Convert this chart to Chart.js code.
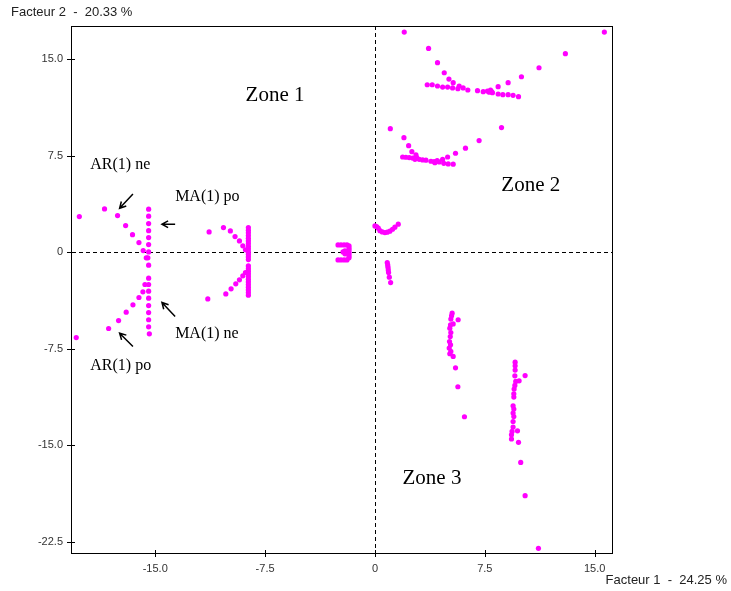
<!DOCTYPE html>
<html>
<head>
<meta charset="utf-8">
<script src="https://cdn.jsdelivr.net/npm/chart.js@4/dist/chart.umd.min.js"></script>
<style>
  html, body { margin: 0; padding: 0; background: #fff; }
  #wrap { width: 731px; height: 591px; }
</style>
</head>
<body>
<div id="wrap"><canvas id="plan"></canvas></div>
<script>
// axis ticks
const xTicks = [-15, -7.5, 0, 7.5, 15];
const yTicks = [15, 7.5, 0, -7.5, -15, -22.5];
const xTitle = "Facteur 1  -  24.25 %";
const yTitle = "Facteur 2  -  20.33 %";

// AR(1) diagonal branches (left)
const arX = [-20.18, -18.46, -17.57, -17.02, -16.55, -16.11, -15.82, -15.61, -15.84, -16.11, -16.52, -16.98, -17.50, -18.18, -20.39];
const arY = [2.77, 3.37, 2.85, 2.07, 1.37, 0.75, 0.13, -0.43, -3.07, -3.51, -4.08, -4.65, -5.30, -5.92, -6.62];

// MA(1) vertical column
const maX = [-15.45, -15.45, -15.45, -15.45, -15.45, -15.45, -15.45, -15.50, -15.45, -15.45, -15.70, -15.45, -15.45, -15.45, -15.45, -15.45, -15.45, -15.45, -15.40];
const maY = [3.35, 2.80, 2.23, 1.68, 1.14, 0.60, 0.03, -0.43, -1.00, -2.01, -2.50, -2.50, -3.02, -3.56, -4.14, -4.68, -5.24, -5.79, -6.33];

// second arc (around -8.6)
const arcX = [-11.32, -10.34, -9.87, -9.55, -9.25, -9.02, -8.84, -8.84, -9.02, -9.25, -9.50, -9.82, -10.18, -11.41];
const arcY = [1.58, 1.92, 1.66, 1.22, 0.88, 0.50, 0.19, -1.57, -1.83, -2.14, -2.45, -2.84, -3.23, -3.62];
const colX = [-8.64, -8.64, -8.64, -8.64, -8.64, -8.64, -8.64, -8.64, -8.64, -8.64, -8.64, -8.64, -8.64, -8.64, -8.64, -8.64, -8.64, -8.64, -8.64, -8.64, -8.64, -8.64, -8.64, -8.64, -8.64];
const colY = [1.92, 1.71, 1.51, 1.30, 1.09, 0.88, 0.68, 0.47, 0.26, 0.05, -0.15, -0.36, -0.57, -1.06, -1.27, -1.47, -1.68, -1.89, -2.09, -2.30, -2.51, -2.71, -2.92, -3.13, -3.33];

// bracket near origin (left)
const brX = [-2.52, -2.32, -2.11, -1.91, -1.77, -1.77, -1.77, -1.77, -1.77, -1.77, -1.77, -1.91, -2.11, -2.32, -2.52, -2.18, -2.05, -2.05];
const brY = [0.57, 0.57, 0.57, 0.57, 0.50, 0.34, 0.19, 0.03, -0.12, -0.28, -0.43, -0.59, -0.59, -0.59, -0.59, 0.03, 0.11, -0.12];

// small curve and stub right of origin
const cuX = [0.0, 0.11, 0.23, 0.34, 0.50, 0.68, 0.84, 1.02, 1.20, 1.36, 1.59];
const cuY = [2.05, 2.00, 1.87, 1.68, 1.58, 1.53, 1.56, 1.64, 1.79, 1.95, 2.18];
const stX = [0.84, 0.87, 0.89, 0.91, 0.93, 0.98, 1.07];
const stY = [-0.80, -0.98, -1.16, -1.37, -1.57, -1.93, -2.35];

// zone 2, upper band
const z2aX = [2.00, 15.66, 3.66, 4.27, 4.73, 5.05, 5.34, 13.00, 11.20, 10.00, 9.09, 8.41,
  3.57, 3.91, 4.27, 4.62, 4.96, 5.30, 5.66, 5.75, 6.02, 6.34, 7.00, 7.39, 7.68, 7.89, 8.02, 8.41, 8.73, 9.09, 9.43, 9.80, 7.80, 7.95];
const z2aY = [17.10, 17.10, 15.83, 14.72, 13.94, 13.45, 13.17, 15.42, 14.33, 13.63, 13.17, 12.86,
  13.01, 13.01, 12.91, 12.83, 12.83, 12.76, 12.70, 12.91, 12.76, 12.60, 12.55, 12.47, 12.52, 12.60, 12.39, 12.29, 12.24, 12.24, 12.19, 12.08, 12.43, 12.50];

// zone 2, lower band
const z2bX = [1.05, 8.64, 1.98, 2.30, 2.52, 2.80, 7.11, 6.18, 5.50, 4.96,
  1.89, 2.11, 2.34, 2.57, 2.84, 3.02, 3.25, 3.48, 3.82, 4.04, 4.25, 4.39, 4.62, 4.70, 5.00, 5.34, 2.73, 4.09];
const z2bY = [9.60, 9.68, 8.90, 8.28, 7.81, 7.56, 8.67, 8.08, 7.69, 7.40,
  7.40, 7.38, 7.35, 7.32, 7.38, 7.22, 7.17, 7.15, 7.07, 7.04, 7.11, 7.01, 7.22, 6.91, 6.86, 6.84, 7.22, 6.96];

// zone 3, left column
const z3aX = [5.27, 5.23, 5.68, 5.18, 5.34, 5.16, 5.11, 5.18, 5.14, 5.09, 5.16, 5.07, 5.18, 5.11, 5.34, 5.50, 5.66, 6.11];
const z3aY = [-4.73, -4.93, -5.24, -5.19, -5.56, -5.63, -5.89, -6.23, -6.54, -6.93, -7.18, -7.44, -7.70, -7.88, -8.09, -8.97, -10.44, -12.77];

// zone 3, right column
const z3bX = [9.57, 9.57, 9.57, 10.25, 9.55, 9.84, 9.61, 9.55, 9.50, 9.48, 9.48, 9.43, 9.48, 9.43, 9.48, 9.43, 9.43, 9.73, 9.36, 9.32, 9.32, 9.80, 9.95, 10.25, 11.16];
const z3bY = [-8.53, -8.81, -9.15, -9.57, -9.59, -9.98, -10.03, -10.34, -10.62, -10.99, -11.24, -11.92, -12.17, -12.48, -12.75, -13.14, -13.57, -13.86, -13.91, -14.17, -14.50, -14.76, -16.32, -18.90, -22.99];

// text labels and arrows, placed in data units
const zoneLabels = [
  { text: "Zone 1", x: -6.82, y: 12.2 },
  { text: "Zone 2", x: 10.64, y: 5.15 },
  { text: "Zone 3", x: 3.89, y: -17.55 }
];
const notes = [
  { text: "AR(1) ne", x: -19.43, y: 6.78 },
  { text: "MA(1) po", x: -13.64, y: 4.30 },
  { text: "MA(1) ne", x: -13.64, y: -6.33 },
  { text: "AR(1) po", x: -19.43, y: -8.81 }
];
const arrows = [
  { from: [-16.52, 4.53], to: [-17.43, 3.42] },
  { from: [-13.64, 2.18], to: [-14.54, 2.18] },
  { from: [-13.64, -4.99], to: [-14.54, -3.90] },
  { from: [-16.52, -7.32], to: [-17.43, -6.28] }
];

function pairs(xs, ys) {
  return xs.map((v, i) => ({ x: v, y: ys[i] }));
}

const points = [].concat(
  pairs(arX, arY), pairs(maX, maY), pairs(arcX, arcY), pairs(colX, colY),
  pairs(brX, brY), pairs(cuX, cuY), pairs(stX, stY),
  pairs(z2aX, z2aY), pairs(z2bX, z2bY), pairs(z3aX, z3aY), pairs(z3bX, z3bY)
);

const decor = {
  id: "decor",
  beforeDatasetsDraw(chart) {
    const { ctx, chartArea: a, scales: { x, y } } = chart;
    const x0 = Math.round(x.getPixelForValue(0)) + 0.5;
    const y0 = Math.round(y.getPixelForValue(0)) + 0.5;
    ctx.save();
    ctx.strokeStyle = "#000";
    ctx.lineWidth = 1;
    ctx.setLineDash([4, 3]);
    ctx.beginPath();
    ctx.moveTo(x0, a.top);
    ctx.lineTo(x0, a.bottom);
    ctx.moveTo(a.left, y0);
    ctx.lineTo(a.right, y0);
    ctx.stroke();
    ctx.restore();
  },
  afterDraw(chart) {
    const { ctx, chartArea: a, scales: { x, y } } = chart;
    ctx.save();
    // frame
    ctx.strokeStyle = "#000";
    ctx.lineWidth = 1;
    ctx.strokeRect(a.left - 0.5, a.top + 0.5, a.right - a.left, a.bottom - a.top);
    // tick marks crossing the axes
    ctx.beginPath();
    yTicks.forEach(v => {
      const py = Math.round(y.getPixelForValue(v)) + 0.5;
      ctx.moveTo(a.left - 5, py);
      ctx.lineTo(a.left + 3, py);
    });
    xTicks.forEach(v => {
      const px = Math.round(x.getPixelForValue(v)) + 0.5;
      ctx.moveTo(px, a.bottom - 3);
      ctx.lineTo(px, a.bottom + 4);
    });
    ctx.stroke();

    // axis titles
    ctx.fillStyle = "#222";
    ctx.font = "13px 'Liberation Sans', Arial, sans-serif";
    ctx.textBaseline = "middle";
    ctx.textAlign = "left";
    ctx.fillText(yTitle, 11, 12);
    ctx.textAlign = "right";
    ctx.fillText(xTitle, 727, 580);

    // zone labels
    ctx.fillStyle = "#000";
    ctx.textAlign = "center";
    ctx.font = "21px 'Liberation Serif', 'Times New Roman', serif";
    zoneLabels.forEach(z => ctx.fillText(z.text, x.getPixelForValue(z.x), y.getPixelForValue(z.y)));

    // AR / MA notes
    ctx.textAlign = "left";
    ctx.font = "16px 'Liberation Serif', 'Times New Roman', serif";
    notes.forEach(n => ctx.fillText(n.text, x.getPixelForValue(n.x), y.getPixelForValue(n.y)));

    // arrows
    ctx.lineWidth = 1.5;
    arrows.forEach(ar => {
      const x1 = x.getPixelForValue(ar.from[0]), y1 = y.getPixelForValue(ar.from[1]);
      const x2 = x.getPixelForValue(ar.to[0]), y2 = y.getPixelForValue(ar.to[1]);
      const ang = Math.atan2(y2 - y1, x2 - x1);
      const h = 7;
      ctx.beginPath();
      ctx.moveTo(x1, y1);
      ctx.lineTo(x2, y2);
      ctx.moveTo(x2 - h * Math.cos(ang - 0.5), y2 - h * Math.sin(ang - 0.5));
      ctx.lineTo(x2, y2);
      ctx.lineTo(x2 - h * Math.cos(ang + 0.5), y2 - h * Math.sin(ang + 0.5));
      ctx.stroke();
    });
    ctx.restore();
  }
};

const fmt = v => (v === 0 ? "0" : v.toFixed(1));

new Chart(document.getElementById("plan"), {
  type: "scatter",
  data: {
    datasets: [{
      data: points,
      backgroundColor: "#ff00ff",
      borderWidth: 0,
      pointRadius: 2.6,
      pointHoverRadius: 2.6
    }]
  },
  options: {
    responsive: true,
    maintainAspectRatio: false,
    animation: false,
    events: [],
    layout: { padding: { top: 26, right: 118, left: 0, bottom: 0 } },
    plugins: { legend: { display: false }, tooltip: { enabled: false } },
    scales: {
      x: {
        type: "linear",
        min: -20.68,
        max: 16.25,
        border: { display: false },
        grid: { display: false, drawTicks: false },
        afterBuildTicks: s => { s.ticks = xTicks.map(v => ({ value: v })); },
        afterFit: s => { s.height = 38; },
        ticks: {
          autoSkip: false,
          maxRotation: 0,
          padding: 9,
          color: "#333",
          font: { family: "'Liberation Sans', Arial, sans-serif", size: 11 },
          callback: v => fmt(v)
        }
      },
      y: {
        type: "linear",
        min: -23.35,
        max: 17.57,
        border: { display: false },
        grid: { display: false, drawTicks: false },
        afterBuildTicks: s => { s.ticks = yTicks.map(v => ({ value: v })); },
        afterFit: s => { s.width = 72; },
        ticks: {
          autoSkip: false,
          padding: 9,
          color: "#333",
          font: { family: "'Liberation Sans', Arial, sans-serif", size: 11 },
          callback: v => fmt(v)
        }
      }
    }
  },
  plugins: [decor]
});
</script>
</body>
</html>
